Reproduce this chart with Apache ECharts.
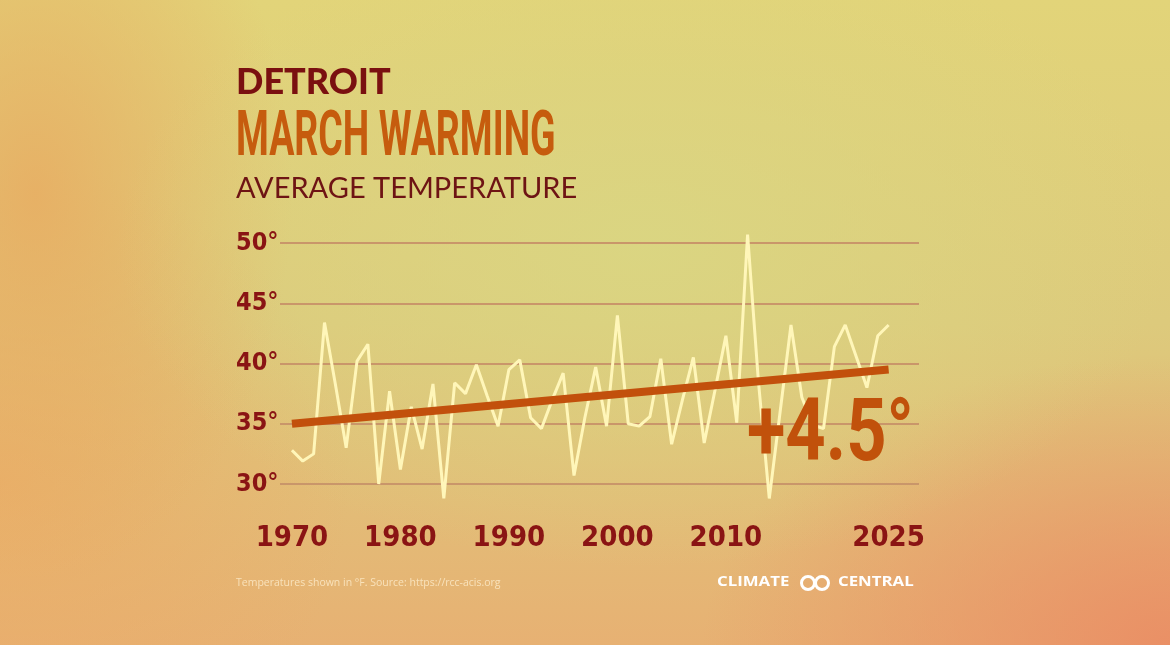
<!DOCTYPE html>
<html>
<head>
<meta charset="utf-8">
<script src="https://cdn.jsdelivr.net/npm/echarts@6/dist/echarts.min.js"></script>
<style>
  html, body { margin: 0; padding: 0; }
  body {
    width: 1170px; height: 645px; overflow: hidden;
    background:
      radial-gradient(ellipse 45% 50% at 55% 38%, rgba(218, 214, 130, 0.9) 0%, rgba(218, 214, 130, 0) 100%),
      radial-gradient(ellipse 40% 45% at 100% 100%, rgba(234, 140, 100, 0.9) 0%, rgba(234, 140, 100, 0) 100%),
      radial-gradient(ellipse 22% 60% at 3% 30%, rgba(232, 172, 98, 0.85) 0%, rgba(232, 172, 98, 0) 100%),
      radial-gradient(ellipse 30% 50% at 0% 75%, rgba(236, 170, 100, 0.7) 0%, rgba(236, 170, 100, 0) 100%),
      linear-gradient(180deg, #e2d479 0%, #ddca7c 50%, #e7b173 100%);
  }
  #main { width: 1170px; height: 645px; }
</style>
</head>
<body>
<div id="main"></div>
<script>
  // March average temperature, Detroit (°F)
  const years = [
    1970, 1971, 1972, 1973, 1974, 1975, 1976, 1977, 1978, 1979,
    1980, 1981, 1982, 1983, 1984, 1985, 1986, 1987, 1988, 1989,
    1990, 1991, 1992, 1993, 1994, 1995, 1996, 1997, 1998, 1999,
    2000, 2001, 2002, 2003, 2004, 2005, 2006, 2007, 2008, 2009,
    2010, 2011, 2012, 2013, 2014, 2015, 2016, 2017, 2018, 2019,
    2020, 2021, 2022, 2023, 2024, 2025
  ];
  const temps = [
    32.8, 31.9, 32.5, 43.4, 38.3, 33.0, 40.2, 41.6, 30.0, 37.7,
    31.2, 36.4, 32.9, 38.3, 28.8, 38.4, 37.5, 39.9, 37.3, 34.8,
    39.5, 40.3, 35.5, 34.6, 37.0, 39.2, 30.7, 35.5, 39.7, 34.8,
    44.0, 35.0, 34.8, 35.6, 40.4, 33.3, 37.0, 40.5, 33.4, 37.8,
    42.3, 35.1, 50.7, 38.5, 28.8, 36.0, 43.2, 37.2, 34.9, 34.6,
    41.4, 43.2, 40.6, 38.0, 42.3, 43.2
  ];
  // trend line end points
  const trendYears = [1970, 2025];
  const trendTemps = [35.0, 39.5];
  const xTickLabels = [1970, 1980, 1990, 2000, 2010, 2025];
  const warming = '+4.5°';

  const narrow = "'DejaVu Sans Condensed', 'Roboto', sans-serif";

  const chart = echarts.init(document.getElementById('main'), null, { renderer: 'canvas' });

  chart.setOption({
    backgroundColor: 'transparent',
    animation: false,
    grid: { left: 280, right: 251, top: 243, bottom: 161, containLabel: false },
    xAxis: {
      type: 'value',
      min: 1968.9,
      max: 2027.8,
      axisLine: { show: false },
      axisTick: { show: false },
      splitLine: { show: false },
      axisLabel: {
        customValues: xTickLabels,
        formatter: (v) => String(v),
        margin: 40,
        color: '#8a1414',
        fontFamily: narrow,
        fontWeight: 'bold',
        fontSize: 29
      }
    },
    yAxis: {
      type: 'value',
      min: 30,
      max: 50,
      interval: 5,
      axisLine: { show: false },
      axisTick: { show: false },
      splitLine: { lineStyle: { color: '#c9966a', width: 2 } },
      axisLabel: {
        formatter: '{value}°',
        align: 'left',
        margin: 44,
        color: '#8a1414',
        fontFamily: narrow,
        fontWeight: 'bold',
        fontSize: 25
      }
    },
    series: [
      {
        type: 'line',
        data: years.map((y, i) => [y, temps[i]]),
        showSymbol: false,
        clip: false,
        lineStyle: { color: '#fff6b9', width: 3 },
        z: 2
      },
      {
        type: 'line',
        data: trendYears.map((y, i) => [y, trendTemps[i]]),
        showSymbol: false,
        clip: false,
        lineStyle: { color: '#c2500c', width: 8, cap: 'butt' },
        z: 3
      }
    ],
    graphic: [
      {
        type: 'text', left: 236, top: 64, z: 10,
        style: { text: 'DETROIT', fill: '#7a1010', font: "900 36px Lato, 'Open Sans', sans-serif" }
      },
      {
        type: 'text', x: 236, y: 108, scaleX: 0.595, z: 10,
        style: { text: 'MARCH WARMING', fill: '#c65c0e', font: "bold 63px Roboto, sans-serif" }
      },
      {
        type: 'text', left: 236, top: 174, z: 10,
        style: { text: 'AVERAGE TEMPERATURE', fill: '#6e1414', font: "29px Lato, 'Open Sans', sans-serif" }
      },
      {
        type: 'text', x: 747, y: 394, scaleX: 0.8, z: 10,
        style: { text: warming, fill: '#c1510b', font: "bold 88px Roboto, sans-serif" }
      },
      {
        type: 'text', left: 236, top: 578, z: 10,
        style: { text: 'Temperatures shown in °F. Source: https://rcc-acis.org', fill: 'rgba(255,240,210,0.75)', font: "10.5px 'Open Sans', sans-serif" }
      },
      {
        type: 'text', x: 717, y: 574, scaleX: 1.12, z: 10,
        style: { text: 'CLIMATE', fill: '#ffffff', font: "bold 15px 'Open Sans', sans-serif" }
      },
      {
        type: 'circle', shape: { cx: 808, cy: 583, r: 6.5 }, z: 10,
        style: { fill: 'none', stroke: '#ffffff', lineWidth: 3 }
      },
      {
        type: 'circle', shape: { cx: 822, cy: 583, r: 6.5 }, z: 10,
        style: { fill: 'none', stroke: '#ffffff', lineWidth: 3 }
      },
      {
        type: 'text', x: 838, y: 574, scaleX: 1.12, z: 10,
        style: { text: 'CENTRAL', fill: '#ffffff', font: "bold 15px 'Open Sans', sans-serif" }
      }
    ]
  });
</script>
</body>
</html>
